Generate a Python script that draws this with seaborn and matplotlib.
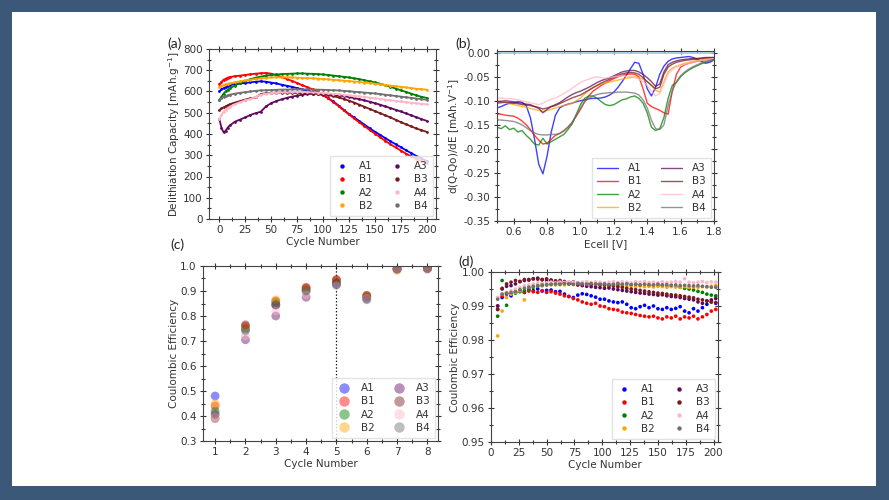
import numpy as np
import pandas as pd
import matplotlib
matplotlib.use("Agg")
import matplotlib.pyplot as plt
from matplotlib.lines import Line2D
from matplotlib.patches import Rectangle
from matplotlib.ticker import MultipleLocator, FormatStrFormatter
import seaborn as sns

sns.set_style("ticks")
plt.rcParams['font.family'] = ['DejaVu Sans']

# ---- series / colours ----
SERIES = ['A1', 'B1', 'A2', 'B2', 'A3', 'B3', 'A4', 'B4']
COLORS = {'A1': '#0000ff', 'B1': '#ff0000', 'A2': '#008000', 'B2': '#ffa500',
          'A3': '#600a60', 'B3': '#7a1a1a', 'A4': '#ffb6c8', 'B4': '#707070'}

# ---- (a) delithiation capacity vs cycle ----
CAP_CYCLE = [0, 2, 4, 6, 8, 10, 15, 20, 25, 30, 35, 40, 45, 50, 55, 60, 65, 70, 75, 80, 85, 90,
             95, 100, 105, 110, 115, 120, 125, 130, 135, 140, 145, 150, 155, 160, 165, 170,
             175, 180, 185, 190, 195, 200]
CAP_A1 = [600, 610, 615, 620, 625, 630, 635, 638, 640, 643, 646, 648, 646, 642, 638, 632, 627, 622,
          616, 610, 604, 597, 590, 582, 568, 553, 534, 514, 494, 478, 461, 444, 427, 411, 396, 381,
          366, 352, 338, 324, 310, 297, 285, 273]
CAP_B1 = [635, 645, 655, 660, 665, 668, 672, 675, 678, 681, 684, 686, 687, 684, 677, 668, 659, 650,
          640, 630, 620, 610, 598, 585, 568, 550, 531, 511, 492, 473, 455, 437, 419, 402, 385, 368,
          352, 337, 322, 308, 295, 283, 272, 262]
CAP_A2 = [560, 575, 590, 600, 608, 615, 628, 640, 650, 658, 665, 670, 675, 678, 680, 682, 683, 684,
          685, 685, 684, 683, 682, 680, 678, 675, 672, 669, 666, 662, 658, 653, 648, 643, 637, 630,
          622, 614, 606, 598, 590, 582, 575, 570]
CAP_B2 = [622, 626, 630, 633, 636, 638, 643, 648, 652, 656, 659, 662, 664, 666, 667, 667, 667, 666,
          665, 664, 663, 662, 661, 659, 657, 655, 653, 651, 649, 647, 645, 642, 640, 637, 634, 631,
          628, 625, 622, 619, 616, 613, 611, 609]
CAP_A3 = [470, 430, 408, 415, 430, 440, 458, 468, 478, 490, 498, 505, 530, 545, 555, 563, 570, 576,
          580, 585, 588, 590, 591, 590, 588, 585, 582, 578, 574, 569, 564, 558, 552, 545, 538, 530,
          522, 514, 506, 497, 488, 479, 470, 462]
CAP_B3 = [513, 520, 525, 530, 535, 540, 548, 555, 562, 568, 572, 588, 592, 594, 595, 595, 595, 594,
          593, 592, 591, 590, 589, 587, 583, 578, 572, 565, 557, 548, 538, 528, 518, 508, 498, 488,
          478, 467, 456, 446, 436, 426, 418, 410]
CAP_A4 = [470, 490, 505, 515, 522, 528, 540, 550, 558, 565, 575, 585, 590, 593, 595, 597, 598, 598,
          598, 598, 597, 596, 595, 593, 591, 589, 587, 585, 582, 580, 577, 574, 571, 568, 565, 562,
          559, 556, 553, 550, 547, 544, 542, 540]
CAP_B4 = [560, 568, 574, 578, 582, 585, 590, 594, 597, 600, 603, 605, 606, 607, 608, 609, 609, 610,
          610, 610, 610, 609, 609, 608, 607, 606, 605, 603, 601, 599, 597, 595, 593, 591, 588, 585,
          582, 579, 576, 573, 570, 567, 564, 561]

# ---- (b) differential capacity vs Ecell ----
ECELL = np.linspace(0.5, 1.8, 53)
DQ_A1 = [-0.115, -0.112, -0.108, -0.105, -0.104, -0.102, -0.103, -0.110, -0.135, -0.180, -0.232,
         -0.252, -0.215, -0.165, -0.130, -0.115, -0.110, -0.107, -0.105, -0.102, -0.100, -0.098,
         -0.096, -0.095, -0.095, -0.094, -0.092, -0.088, -0.082, -0.072, -0.060, -0.047, -0.033,
         -0.020, -0.022, -0.045, -0.075, -0.090, -0.072, -0.045, -0.028, -0.018, -0.013, -0.011,
         -0.010, -0.009, -0.008, -0.010, -0.014, -0.018, -0.022, -0.020, -0.015]
DQ_B1 = [-0.127, -0.128, -0.130, -0.131, -0.132, -0.136, -0.142, -0.150, -0.160, -0.172, -0.182,
         -0.190, -0.188, -0.180, -0.172, -0.168, -0.162, -0.155, -0.145, -0.132, -0.118, -0.102,
         -0.090, -0.080, -0.074, -0.068, -0.063, -0.058, -0.054, -0.050, -0.047, -0.045, -0.044,
         -0.045, -0.050, -0.075, -0.105, -0.112, -0.116, -0.120, -0.125, -0.128, -0.080, -0.045,
         -0.030, -0.025, -0.022, -0.020, -0.018, -0.016, -0.015, -0.013, -0.012]
DQ_A2 = [-0.155, -0.158, -0.152, -0.160, -0.157, -0.165, -0.162, -0.172, -0.180, -0.190, -0.192,
         -0.178, -0.190, -0.185, -0.180, -0.175, -0.170, -0.160, -0.148, -0.128, -0.108, -0.095,
         -0.090, -0.090, -0.095, -0.102, -0.108, -0.110, -0.108, -0.103, -0.098, -0.096, -0.092,
         -0.090, -0.095, -0.105, -0.125, -0.155, -0.162, -0.158, -0.135, -0.095, -0.068, -0.062,
         -0.050, -0.042, -0.036, -0.031, -0.027, -0.023, -0.020, -0.017, -0.014]
DQ_B2 = [-0.100, -0.102, -0.104, -0.106, -0.108, -0.110, -0.112, -0.114, -0.116, -0.118, -0.120,
         -0.122, -0.120, -0.118, -0.115, -0.112, -0.110, -0.108, -0.105, -0.100, -0.094, -0.086,
         -0.078, -0.072, -0.068, -0.065, -0.063, -0.061, -0.059, -0.057, -0.055, -0.053, -0.052,
         -0.050, -0.052, -0.055, -0.060, -0.068, -0.078, -0.082, -0.060, -0.040, -0.032, -0.028,
         -0.025, -0.022, -0.020, -0.018, -0.016, -0.015, -0.014, -0.012, -0.011]
DQ_A3 = [-0.102, -0.101, -0.100, -0.101, -0.102, -0.104, -0.105, -0.107, -0.108, -0.112, -0.116,
         -0.125, -0.118, -0.112, -0.108, -0.104, -0.098, -0.092, -0.087, -0.083, -0.080, -0.076,
         -0.072, -0.067, -0.062, -0.058, -0.055, -0.052, -0.048, -0.044, -0.040, -0.038, -0.037,
         -0.037, -0.040, -0.045, -0.052, -0.060, -0.070, -0.065, -0.040, -0.025, -0.020, -0.017,
         -0.015, -0.014, -0.013, -0.012, -0.012, -0.011, -0.010, -0.010, -0.010]
DQ_B3 = [-0.105, -0.104, -0.103, -0.104, -0.105, -0.106, -0.108, -0.109, -0.110, -0.112, -0.114,
         -0.117, -0.115, -0.112, -0.110, -0.106, -0.102, -0.098, -0.094, -0.091, -0.088, -0.083,
         -0.078, -0.073, -0.068, -0.063, -0.059, -0.055, -0.051, -0.047, -0.044, -0.042, -0.041,
         -0.042, -0.045, -0.052, -0.060, -0.068, -0.075, -0.072, -0.045, -0.030, -0.024, -0.020,
         -0.018, -0.016, -0.015, -0.014, -0.013, -0.012, -0.011, -0.011, -0.010]
DQ_A4 = [-0.095, -0.094, -0.096, -0.095, -0.097, -0.098, -0.100, -0.102, -0.104, -0.106, -0.108,
         -0.105, -0.100, -0.097, -0.094, -0.090, -0.085, -0.080, -0.074, -0.068, -0.062, -0.058,
         -0.055, -0.052, -0.050, -0.052, -0.053, -0.051, -0.050, -0.049, -0.048, -0.049, -0.050,
         -0.052, -0.055, -0.060, -0.068, -0.080, -0.090, -0.085, -0.065, -0.045, -0.035, -0.030,
         -0.027, -0.024, -0.022, -0.020, -0.018, -0.016, -0.015, -0.013, -0.012]
DQ_B4 = [-0.140, -0.140, -0.141, -0.142, -0.143, -0.146, -0.150, -0.156, -0.162, -0.167, -0.170,
         -0.171, -0.171, -0.170, -0.170, -0.168, -0.163, -0.155, -0.145, -0.130, -0.115, -0.102,
         -0.095, -0.090, -0.087, -0.085, -0.084, -0.083, -0.083, -0.082, -0.082, -0.082, -0.083,
         -0.084, -0.088, -0.098, -0.115, -0.140, -0.158, -0.160, -0.150, -0.110, -0.080, -0.060,
         -0.048, -0.040, -0.034, -0.029, -0.025, -0.021, -0.018, -0.016, -0.014]

# ---- (c) coulombic efficiency, first 8 cycles ----
CE_CYCLE = [1, 2, 3, 4, 5, 6, 7, 8]
CE8_A1 = [0.480, 0.750, 0.845, 0.905, 0.925, 0.875, 0.988, 0.990]
CE8_B1 = [0.440, 0.760, 0.860, 0.915, 0.945, 0.880, 0.988, 0.991]
CE8_A2 = [0.420, 0.745, 0.855, 0.900, 0.935, 0.875, 0.987, 0.990]
CE8_B2 = [0.450, 0.755, 0.865, 0.910, 0.940, 0.882, 0.982, 0.989]
CE8_A3 = [0.405, 0.705, 0.800, 0.875, 0.930, 0.868, 0.988, 0.990]
CE8_B3 = [0.390, 0.765, 0.843, 0.912, 0.945, 0.883, 0.990, 0.991]
CE8_A4 = [0.395, 0.720, 0.820, 0.885, 0.920, 0.870, 0.986, 0.985]
CE8_B4 = [0.410, 0.740, 0.845, 0.900, 0.925, 0.865, 0.988, 0.990]

# ---- (d) coulombic efficiency, long term ----
CE_LONG_CYCLE = [6, 10, 14, 18, 22, 26, 30, 34, 38, 42, 46, 50, 54, 58, 62, 66, 70, 74, 78, 82,
                 86, 90, 94, 98, 102, 106, 110, 114, 118, 122, 126, 130, 134, 138, 142, 146, 150,
                 154, 158, 162, 166, 170, 174, 178, 182, 186, 190, 194, 198, 202]
CE_A1 = [.9890, .9925, .9935, .9930, .9940, .9945, .9940, .9948, .9945, .9950, .9944, .9946, .9947,
         .9942, .9943, .9935, .9928, .9925, .9932, .9936, .9934, .9930, .9926, .9920, .9920, .9915,
         .9912, .9910, .9912, .9905, .9895, .9892, .9898, .9902, .9895, .9900, .9892, .9890, .9895,
         .9890, .9893, .9898, .9885, .9880, .9892, .9885, .9895, .9905, .9912, .9908]
CE_B1 = [.9900, .9930, .9938, .9935, .9942, .9945, .9940, .9944, .9942, .9940, .9945, .9940, .9942,
         .9938, .9935, .9930, .9928, .9922, .9918, .9912, .9908, .9905, .9908, .9900, .9898, .9892,
         .9890, .9888, .9882, .9880, .9878, .9875, .9872, .9870, .9868, .9870, .9865, .9862, .9868,
         .9865, .9870, .9862, .9868, .9865, .9870, .9862, .9868, .9875, .9885, .9890]
CE_A2 = [.9870, .9975, .9902, .9935, .9938, .9942, .9945, .9950, .9955, .9958, .9960, .9962, .9964,
         .9963, .9965, .9966, .9965, .9967, .9966, .9964, .9966, .9965, .9963, .9966, .9965, .9962,
         .9964, .9965, .9963, .9967, .9962, .9964, .9962, .9963, .9960, .9962, .9960, .9961, .9958,
         .9960, .9957, .9955, .9952, .9950, .9947, .9943, .9940, .9935, .9932, .9930]
CE_B2 = [.9812, .9885, .9925, .9935, .9940, .9945, .9918, .9955, .9958, .9960, .9962, .9963, .9962,
         .9964, .9963, .9962, .9964, .9963, .9962, .9963, .9962, .9960, .9962, .9961, .9960, .9961,
         .9960, .9959, .9960, .9958, .9960, .9958, .9959, .9957, .9958, .9956, .9958, .9957, .9955,
         .9957, .9956, .9955, .9957, .9955, .9956, .9955, .9957, .9956, .9958, .9960]
CE_A3 = [.9900, .9950, .9958, .9960, .9965, .9972, .9975, .9978, .9980, .9982, .9978, .9975, .9976,
         .9972, .9970, .9968, .9966, .9965, .9962, .9960, .9958, .9957, .9955, .9954, .9952, .9953,
         .9950, .9948, .9946, .9944, .9942, .9940, .9938, .9937, .9935, .9934, .9932, .9933, .9930,
         .9928, .9927, .9925, .9922, .9920, .9918, .9912, .9908, .9915, .9918, .9922]
CE_B3 = [.9890, .9952, .9965, .9970, .9975, .9972, .9978, .9976, .9980, .9979, .9977, .9980, .9976,
         .9974, .9975, .9972, .9970, .9971, .9968, .9967, .9966, .9965, .9965, .9963, .9962, .9960,
         .9959, .9957, .9955, .9952, .9950, .9948, .9946, .9944, .9942, .9940, .9938, .9937, .9935,
         .9933, .9932, .9930, .9928, .9926, .9924, .9920, .9918, .9915, .9912, .9910]
CE_A4 = [.9925, .9935, .9940, .9945, .9950, .9955, .9960, .9962, .9965, .9968, .9966, .9968, .9970,
         .9968, .9970, .9969, .9971, .9970, .9968, .9970, .9972, .9969, .9971, .9970, .9968, .9970,
         .9972, .9969, .9971, .9970, .9968, .9971, .9970, .9972, .9969, .9970, .9968, .9971, .9969,
         .9970, .9972, .9970, .9980, .9970, .9968, .9970, .9972, .9969, .9971, .9970]
CE_B4 = [.9920, .9935, .9938, .9940, .9942, .9948, .9952, .9955, .9958, .9960, .9962, .9963, .9964,
         .9965, .9964, .9966, .9965, .9964, .9966, .9965, .9964, .9966, .9965, .9964, .9965, .9963,
         .9964, .9966, .9964, .9965, .9963, .9964, .9962, .9964, .9963, .9962, .9964, .9962, .9963,
         .9961, .9962, .9960, .9961, .9960, .9959, .9960, .9958, .9957, .9955, .9955]

cap = dict(zip(SERIES, [CAP_A1, CAP_B1, CAP_A2, CAP_B2, CAP_A3, CAP_B3, CAP_A4, CAP_B4]))
dq = dict(zip(SERIES, [DQ_A1, DQ_B1, DQ_A2, DQ_B2, DQ_A3, DQ_B3, DQ_A4, DQ_B4]))
ce8 = dict(zip(SERIES, [CE8_A1, CE8_B1, CE8_A2, CE8_B2, CE8_A3, CE8_B3, CE8_A4, CE8_B4]))
ce = dict(zip(SERIES, [CE_A1, CE_B1, CE_A2, CE_B2, CE_A3, CE_B3, CE_A4, CE_B4]))

TXT = '#333333'


def style(ax, xmaj, xmin, ymaj, ymin):
    ax.xaxis.set_major_locator(MultipleLocator(xmaj))
    ax.xaxis.set_minor_locator(MultipleLocator(xmin))
    ax.yaxis.set_major_locator(MultipleLocator(ymaj))
    ax.yaxis.set_minor_locator(MultipleLocator(ymin))
    ax.tick_params(which='both', direction='inout', top=True, right=True,
                   labelsize=7.5, colors=TXT, width=0.8, pad=2)
    ax.tick_params(which='major', length=5)
    ax.tick_params(which='minor', length=3)
    for s in ax.spines.values():
        s.set_color('#444444')
        s.set_linewidth(0.8)
    ax.xaxis.label.set_color(TXT)
    ax.yaxis.label.set_color(TXT)


def add_legend(ax, ms, alpha=1.0, line=False):
    handles = []
    for s in SERIES:
        if line:
            h = Line2D([], [], color=COLORS[s], lw=1.0, alpha=alpha)
        else:
            h = Line2D([], [], color=COLORS[s], marker='o', ls='', ms=ms, alpha=alpha,
                       markeredgewidth=0)
        handles.append(h)
    leg = ax.legend(handles, SERIES, loc='lower right', ncol=2, fontsize=7.5,
                    frameon=True, fancybox=False, edgecolor='#dddddd',
                    handlelength=2.0 if line else 1.2, handletextpad=1.0,
                    columnspacing=1.8, labelspacing=0.3, borderpad=0.5,
                    borderaxespad=0.3)
    for t in leg.get_texts():
        t.set_color(TXT)


fig = plt.figure(figsize=(8.89, 5.0), dpi=100)
fig.patch.set_facecolor('#3b5878')
fig.patches.append(Rectangle((12 / 889, 14 / 500), 864 / 889, 474 / 500,
                             transform=fig.transFigure, facecolor='white',
                             edgecolor='none', zorder=-10))

ax_a = fig.add_axes([209 / 889, 1 - 219 / 500, 227 / 889, 170 / 500])
ax_b = fig.add_axes([497 / 889, 1 - 221 / 500, 217 / 889, 170 / 500])
ax_c = fig.add_axes([203 / 889, 1 - 441 / 500, 235 / 889, 175 / 500])
ax_d = fig.add_axes([491 / 889, 1 - 442 / 500, 227 / 889, 170 / 500])

# (a)
for s in SERIES:
    sns.lineplot(x=CAP_CYCLE, y=cap[s], ax=ax_a, color=COLORS[s], lw=1.3,
                 marker='o', markersize=2.0, markeredgewidth=0, legend=False)
ax_a.set_xlim(-10, 209)
ax_a.set_ylim(0, 800)
ax_a.set_xlabel('Cycle Number', fontsize=7.5, labelpad=1)
ax_a.set_ylabel('Delithiation Capacity [mAh.g$^{-1}$]', fontsize=7.5, labelpad=1)
style(ax_a, 25, 12.5, 100, 50)
add_legend(ax_a, 3.2)

# (b)
ax_b.axhline(0, color='#9ecae1', lw=1.2, zorder=1)
for s in SERIES:
    sns.lineplot(x=ECELL, y=dq[s], ax=ax_b, color=COLORS[s], lw=1.0, alpha=0.75, legend=False)
ax_b.set_xlim(0.5, 1.8)
ax_b.set_ylim(-0.35, 0.0035)
ax_b.yaxis.set_major_formatter(FormatStrFormatter('%.2f'))
ax_b.set_xlabel('Ecell [V]', fontsize=7.5, labelpad=1)
ax_b.set_ylabel('d(Q-Qo)/dE [mAh.V$^{-1}$]', fontsize=7.5, labelpad=1)
style(ax_b, 0.2, 0.1, 0.05, 0.025)
add_legend(ax_b, 0, alpha=0.75, line=True)

# (c)
ax_c.axvline(5, color='black', ls=':', lw=0.9, zorder=1)
for s in SERIES:
    sns.scatterplot(x=CE_CYCLE, y=ce8[s], ax=ax_c, color=COLORS[s], s=40, alpha=0.45,
                    edgecolor='none', legend=False)
ax_c.set_xlim(0.6, 8.35)
ax_c.set_ylim(0.3, 1.0)
ax_c.set_xlabel('Cycle Number', fontsize=7.5, labelpad=1)
ax_c.set_ylabel('Coulombic Efficiency', fontsize=7.5, labelpad=1)
style(ax_c, 1, 0.5, 0.1, 0.05)
add_legend(ax_c, 7.5, alpha=0.45)

# (d)
for s in SERIES:
    sns.scatterplot(x=CE_LONG_CYCLE, y=ce[s], ax=ax_d, color=COLORS[s], s=7,
                    edgecolor='none', legend=False)
ax_d.set_xlim(0, 204)
ax_d.set_ylim(0.95, 1.0)
ax_d.yaxis.set_major_formatter(FormatStrFormatter('%.2f'))
ax_d.set_xlabel('Cycle Number', fontsize=7.5, labelpad=1)
ax_d.set_ylabel('Coulombic Efficiency', fontsize=7.5, labelpad=1)
style(ax_d, 25, 12.5, 0.01, 0.005)
add_legend(ax_d, 3.2)

# panel letters
for lbl, x, y in [('(a)', 175, 44), ('(b)', 463, 44), ('(c)', 177, 245), ('(d)', 466, 262)]:
    fig.text(x / 889, 1 - y / 500, lbl, fontsize=10, color='#222222',
             ha='center', va='center', family=['Lato', 'DejaVu Sans'])

fig.savefig('out.png', dpi=100, facecolor=fig.get_facecolor())
